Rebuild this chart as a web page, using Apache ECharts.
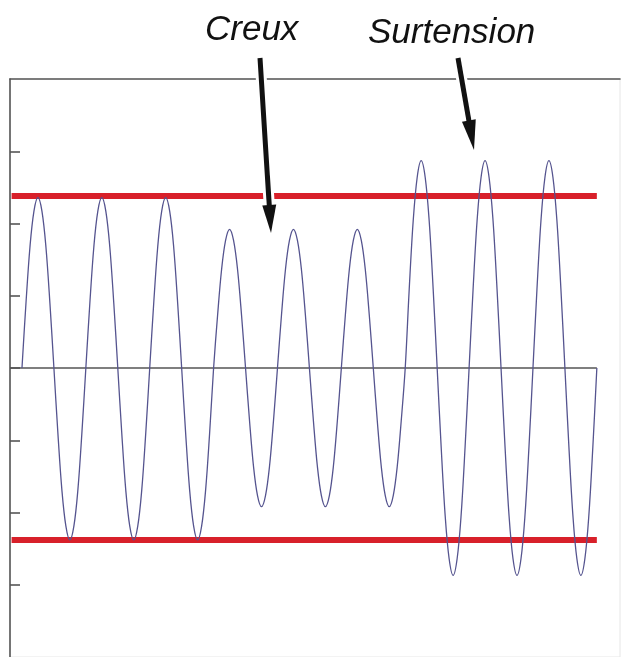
<!DOCTYPE html>
<html><head><meta charset="utf-8">
<script src="https://cdn.jsdelivr.net/npm/echarts@6/dist/echarts.min.js"></script>
<style>html,body{margin:0;padding:0;background:#fff}#c{width:624px;height:657px}</style>
</head><body><div id="c"></div><script>
// Peak value of each half-cycle (18 half-cycles = 9 cycles of 20 ms)
const halfCyclePeaks = [2.36, -2.38, 2.36, -2.38, 2.36, -2.38,
                        1.92, -1.92, 1.92, -1.92, 1.92, -1.92,
                        2.87, -2.87, 2.87, -2.87, 2.87, -2.87];
// Shape of one half-cycle, read at eighths of the half-cycle (relative to its peak)
const halfCycleProfile = [0, 0.38, 0.71, 0.92, 1, 0.92, 0.71, 0.38];
const halfCycleMs = 10;
const limitLevels = [2.38, -2.38];
const zeroLevel = [0];
const yTickValues = [-3, -2, -1, 0, 1, 2, 3];
const axisRangeX = [-3.75, 187.25];
const axisRangeY = [-4, 4];
const labelTexts = ['Creux', 'Surtension'];

const wave = [];
const step = halfCycleMs / halfCycleProfile.length;
halfCyclePeaks.forEach((p, i) => {
  halfCycleProfile.forEach((f, j) => {
    wave.push([i * halfCycleMs + j * step, f * p]);
  });
});
const tEnd = halfCyclePeaks.length * halfCycleMs;
wave.push([tEnd, 0]);

const chart = echarts.init(document.getElementById('c'), null, {renderer: 'canvas'});

function arrow(x1, y1, x2, y2, headLen, headHalfW) {
  const dx = x2 - x1, dy = y2 - y1, L = Math.hypot(dx, dy);
  const ux = dx / L, uy = dy / L, px = -uy, py = ux;
  const bx = x2 - ux * headLen, by = y2 - uy * headLen;
  const head = [[x2, y2], [bx + px * headHalfW, by + py * headHalfW], [bx - px * headHalfW, by - py * headHalfW]];
  return [
    {type: 'line', shape: {x1, y1, x2: bx, y2: by}, style: {stroke: '#fff', lineWidth: 11}, z: 100},
    {type: 'polygon', shape: {points: head}, style: {fill: '#fff', stroke: '#fff', lineWidth: 6, lineJoin: 'round'}, z: 100},
    {type: 'line', shape: {x1, y1, x2: bx + ux * 2, y2: by + uy * 2}, style: {stroke: '#111', lineWidth: 5}, z: 101},
    {type: 'polygon', shape: {points: head}, style: {fill: '#111'}, z: 101}
  ];
}

const lineBase = {type: 'line', symbol: 'none', silent: true, animation: false};

chart.setOption({
  animation: false,
  backgroundColor: '#fff',
  grid: {left: 10, top: 79, width: 610, height: 581.6, show: true, borderColor: '#e6e6e6', borderWidth: 1},
  xAxis: {
    type: 'value', min: axisRangeX[0], max: axisRangeX[1], position: 'top',
    axisLine: {show: true, onZero: false, lineStyle: {color: '#555', width: 1.6}},
    axisTick: {show: false}, axisLabel: {show: false}, splitLine: {show: false}
  },
  yAxis: {
    type: 'value', min: axisRangeY[0], max: axisRangeY[1], interval: 1,
    axisLine: {show: true, onZero: false, lineStyle: {color: '#555', width: 1.6}},
    axisTick: {show: true, inside: true, length: 10, customValues: yTickValues, lineStyle: {color: '#555', width: 1.6}},
    axisLabel: {show: false}, splitLine: {show: false}
  },
  series: [
    Object.assign({}, lineBase, {data: [[axisRangeX[0], zeroLevel[0]], [tEnd, zeroLevel[0]]], lineStyle: {color: '#555', width: 1.5}, z: 1}),
    Object.assign({}, lineBase, {data: [[axisRangeX[0] + 0.5, limitLevels[0]], [tEnd, limitLevels[0]]], lineStyle: {color: '#d8202a', width: 6}, z: 2}),
    Object.assign({}, lineBase, {data: [[axisRangeX[0] + 0.5, limitLevels[1]], [tEnd, limitLevels[1]]], lineStyle: {color: '#d8202a', width: 6}, z: 2}),
    Object.assign({}, lineBase, {data: wave, smooth: 0.35, lineStyle: {color: '#55548f', width: 1.3}, z: 3})
  ],
  graphic: [
    {type: 'text', left: 205, top: 13, z: 110, style: {text: labelTexts[0], font: 'italic 35px "Liberation Sans", Arial, sans-serif', fill: '#111'}},
    {type: 'text', left: 368, top: 16, z: 110, style: {text: labelTexts[1], font: 'italic 35px "Liberation Sans", Arial, sans-serif', fill: '#111'}},
    ...arrow(260, 58, 271, 233, 28, 7),
    ...arrow(458, 58, 474, 150, 30, 7)
  ]
});
</script></body></html>
